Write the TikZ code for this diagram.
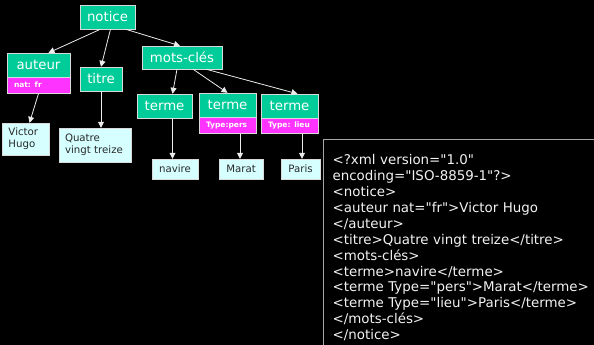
\documentclass[tikz,border=0pt]{standalone}
\usepackage{fontspec}
\setmainfont{DejaVu Sans}[Ligatures=TeXOff]
\usetikzlibrary{positioning,arrows.meta}
\definecolor{tagcol}{RGB}{0,204,153}
\definecolor{attrcol}{RGB}{255,51,255}
\definecolor{leafcol}{RGB}{214,255,255}
\definecolor{leaftext}{RGB}{40,40,40}

\begin{document}
\begin{tikzpicture}[x=1pt,y=-1pt]
\tikzset{tag/.style = {draw=gray!30,fill=tagcol,text=white,font=\fontsize{13.3}{16}\selectfont,inner sep=0pt,minimum height=24pt,text height=9.5pt,text depth=0pt}}
\tikzset{attr/.style = {draw=gray!30,fill=attrcol,text=white,font=\fontsize{7.5}{9}\selectfont\bfseries,inner xsep=7pt,inner ysep=0pt,minimum height=16pt,align=left,text height=5.5pt,text depth=1.5pt}}
\tikzset{leaf/.style = {draw=gray!30,fill=leafcol,text=leaftext,font=\fontsize{10.2}{12}\selectfont,inner sep=0pt,minimum height=20pt}}
\tikzset{xmlbox/.style = {draw=gray!70,line width=1.2pt,text=white!90!gray,align=left,text width=290pt,inner xsep=9.5pt,inner ysep=15.5pt,font=\fontsize{13.4}{15.9}\selectfont}}
\tikzset{edge/.style = {-{Triangle[width=6pt,length=6pt]},draw=white!85!gray,line width=0.8pt}}

\path[clip,use as bounding box] (0,0) rectangle (594,345);
\fill[black] (0,0) rectangle (594,345);

% tree of the notice
\node[tag,minimum width=55pt] (notice) at (107.5,17) {notice};
\node[tag,minimum width=63pt] (auteur) at (38.5,65) {auteur};
\node[attr,text width=49pt,below=0pt of auteur] (auteurattr) {nat: fr};
\node[tag,minimum width=42pt] (titre) at (101,79) {titre};
\node[tag,minimum width=80pt,minimum height=23pt] (motscles) at (182,57.5) {mots-clés};
\node[tag,minimum width=55pt] (terme1) at (164.5,106) {terme};
\node[tag,minimum width=57pt] (terme2) at (227.5,105) {terme};
\node[attr,text width=43pt,below=0pt of terme2] (terme2attr) {Type:pers};
\node[tag,minimum width=57pt] (terme3) at (289.5,106) {terme};
\node[attr,text width=43pt,minimum height=15pt,below=0pt of terme3] (terme3attr) {Type: lieu};

% leaves
\node[leaf,align=left,text width=34pt,inner xsep=6.5pt,minimum height=32pt] (victor) at (25.5,139) {Victor\\Hugo};
\node[leaf,align=left,text width=60pt,inner xsep=6pt,minimum height=34pt] (quatre) at (95,145) {Quatre\\vingt treize};
\node[leaf,minimum width=46pt] (navire) at (175,169) {navire};
\node[leaf,minimum width=44pt] (marat) at (241,169) {Marat};
\node[leaf,minimum width=39pt] (paris) at (300.5,169) {Paris};

% xml source
\node[xmlbox,anchor=north west] (xml) at (322.5,138.5) {<?xml version="1.0"\\
encoding="ISO-8859-1"?>\\
<notice>\\
<auteur nat="fr">Victor Hugo\\
</auteur>\\
<titre>Quatre vingt treize</titre>\\
<mots-clés>\\
<terme>navire</terme>\\
<terme Type="pers">Marat</terme>\\
<terme Type="lieu">Paris</terme>\\
</mots-clés>\\
</notice>};

\draw[edge] ([xshift=-7pt]notice.south) -- ([xshift=10pt]auteur.north);
\draw[edge] ([xshift=3pt]notice.south) -- (titre.north);
\draw[edge] ([xshift=18pt]notice.south) -- ([xshift=-2pt]motscles.north);
\draw[edge] (auteurattr.south) -- ([xshift=4pt]victor.north);
\draw[edge] (titre.south) -- (titre.south |- quatre.north);
\draw[edge] ([xshift=-5pt]motscles.south) -- ([xshift=8pt]terme1.north);
\draw[edge] ([xshift=11pt]motscles.south) -- (terme2.north);
\draw[edge] ([xshift=24pt]motscles.south) -- ([xshift=8pt]terme3.north);
\draw[edge] ([xshift=8pt]terme1.south) -- ([xshift=8pt]terme1.south |- navire.north);
\draw[edge] ([xshift=12.5pt]terme2attr.south) -- ([xshift=12.5pt]terme2attr.south |- marat.north);
\draw[edge] ([xshift=12.5pt]terme3attr.south) -- ([xshift=12.5pt]terme3attr.south |- paris.north);

\end{tikzpicture}
\end{document}
